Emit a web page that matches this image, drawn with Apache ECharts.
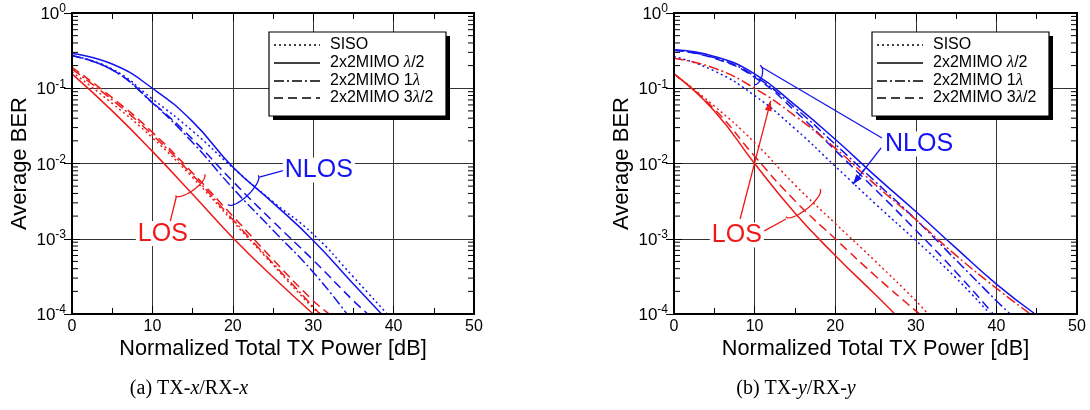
<!DOCTYPE html>
<html>
<head>
<meta charset="utf-8">
<script src="https://cdn.jsdelivr.net/npm/echarts@6/dist/echarts.min.js"></script>
<style>
  html, body { margin: 0; padding: 0; background: #fff; }
  #ber-chart { width: 1090px; height: 410px; }
</style>
</head>
<body>
<div id="ber-chart"></div>
<script>
// (a) TX-x/RX-x, points are [power dB, BER]
const aLosSiso = [[0, 0.165], [5, 0.063], [10, 0.022], [15, 0.0065], [20, 0.0017], [25, 0.00045], [30, 0.00012], [31, 0.0001]];
const aLosHalf = [[0, 0.155], [5, 0.05], [10, 0.0145], [15, 0.0039], [20, 0.00103], [25, 0.00031], [30, 0.0001]];
const aLosOne = [[0, 0.18], [5, 0.07], [10, 0.024], [15, 0.007], [20, 0.0018], [25, 0.00047], [30, 0.000125], [30.8, 0.0001]];
const aLosThree = [[0, 0.19], [5, 0.075], [10, 0.026], [15, 0.0075], [20, 0.002], [25, 0.00053], [30, 0.00015], [32, 0.0001]];
const aNlosSiso = [[0, 0.27], [5, 0.18], [10, 0.072], [15, 0.027], [20, 0.0088], [25, 0.0031], [30, 0.00115], [35, 0.00031], [39.2, 0.0001]];
const aNlosHalf = [[0, 0.29], [5, 0.21], [10, 0.1], [15, 0.036], [20, 0.009], [25, 0.003], [30, 0.00095], [35, 0.00025], [38.5, 0.0001]];
const aNlosOne = [[0, 0.27], [5, 0.175], [10, 0.064], [15, 0.019], [20, 0.0047], [25, 0.0013], [30, 0.00036], [34.2, 0.0001]];
const aNlosThree = [[0, 0.27], [5, 0.175], [10, 0.065], [15, 0.021], [20, 0.0058], [25, 0.0017], [30, 0.00052], [35, 0.00015], [36.8, 0.0001]];

// (b) TX-y/RX-y
const bLosSiso = [[0, 0.155], [5, 0.058], [10, 0.019], [15, 0.0052], [20, 0.0016], [25, 0.0005], [30, 0.00015], [31.5, 0.0001]];
const bLosHalf = [[0, 0.155], [5, 0.05], [10, 0.01], [15, 0.0022], [20, 0.0006], [25, 0.00018], [27.4, 0.0001]];
const bLosOne = [[0, 0.25], [5, 0.185], [10, 0.1], [15, 0.043], [20, 0.016], [25, 0.0052], [30, 0.0018], [35, 0.0006], [40, 0.00022], [44.2, 0.0001]];
const bLosThree = [[0, 0.155], [5, 0.053], [10, 0.0125], [15, 0.0032], [20, 0.001], [25, 0.00032], [30, 0.00011], [30.5, 0.0001]];
const bNlosSiso = [[0, 0.265], [5, 0.17], [10, 0.08], [15, 0.029], [20, 0.0092], [25, 0.0029], [30, 0.00095], [35, 0.0003], [39.2, 0.0001]];
const bNlosHalf = [[0, 0.325], [5, 0.265], [10, 0.155], [15, 0.06], [20, 0.021], [25, 0.0068], [30, 0.0023], [35, 0.00075], [40, 0.00025], [44.8, 0.0001]];
const bNlosOne = [[0, 0.32], [5, 0.255], [10, 0.145], [15, 0.055], [20, 0.018], [25, 0.0057], [30, 0.0018], [35, 0.00052], [40, 0.00015], [41.7, 0.0001]];
const bNlosThree = [[0, 0.32], [5, 0.25], [10, 0.14], [15, 0.05], [20, 0.015], [25, 0.0045], [30, 0.0013], [35, 0.00036], [39.6, 0.0001]];

const berMin = 0.0001;
const berMax = 1;
const powerMin = 0;
const powerMax = 50;
const powerStep = 10;
const berMinorTicks = [
  0.0002, 0.0003, 0.0004, 0.0005, 0.0006, 0.0007, 0.0008, 0.0009,
  0.002, 0.003, 0.004, 0.005, 0.006, 0.007, 0.008, 0.009,
  0.02, 0.03, 0.04, 0.05, 0.06, 0.07, 0.08, 0.09,
  0.2, 0.3, 0.4, 0.5, 0.6, 0.7, 0.8, 0.9,
];
const legendNames = ['SISO', '2x2MIMO {i|λ}/2', '2x2MIMO 1{i|λ}', '2x2MIMO 3{i|λ}/2'];
const captions = ['(a) TX-{i|x}/RX-{i|x}', '(b) TX-{i|y}/RX-{i|y}'];

const FONT = '"Liberation Sans", Arial, sans-serif';
const SERIF = '"Liberation Serif", "DejaVu Serif", serif';
const BLUE = '#1414ee';
const RED = '#ee1a1a';
const dash = {
  siso: [2, 3],
  half: 'solid',
  one: [10, 3, 2, 3],
  three: [9, 5],
};

function curve(name, data, color, kind, g) {
  return {
    type: 'line',
    name,
    data,
    xAxisIndex: g * 2,
    yAxisIndex: g * 2,
    symbol: 'none',
    smooth: 0.5,
    silent: true,
    lineStyle: { color, width: 1.5, type: dash[kind] },
    z: 3,
  };
}

function minorTicks(g) {
  return {
    type: 'custom',
    xAxisIndex: g * 2,
    yAxisIndex: g * 2,
    silent: true,
    clip: false,
    data: berMinorTicks.map((v) => [powerMin, v]),
    renderItem(params, api) {
      const v = api.value(1);
      const l = api.coord([powerMin, v]);
      const r = api.coord([powerMax, v]);
      const st = { stroke: '#000', lineWidth: 1 };
      return {
        type: 'group',
        children: [
          { type: 'line', shape: { x1: l[0], y1: l[1], x2: l[0] + 6, y2: l[1] }, style: st },
          { type: 'line', shape: { x1: r[0] - 6, y1: r[1], x2: r[0], y2: r[1] }, style: st },
        ],
      };
    },
    z: 4,
  };
}

function xAxes(g) {
  const common = {
    type: 'value',
    gridIndex: g,
    min: powerMin,
    max: powerMax,
    interval: powerStep,
    axisLine: { show: false },
    axisTick: { show: true, inside: true, length: 8, lineStyle: { color: '#000' } },
    minorTick: { show: true, splitNumber: 2, length: 6, lineStyle: { color: '#000' } },
  };
  return [
    {
      ...common,
      position: 'bottom',
      splitLine: { show: true, lineStyle: { color: '#333', width: 1 } },
      axisLabel: { fontSize: 16, color: '#000', fontFamily: FONT, margin: 5 },
      name: 'Normalized Total TX Power [dB]',
      nameLocation: 'middle',
      nameGap: 24,
      nameMoveOverlap: false,
      nameTextStyle: { fontSize: 21.7, color: '#000', fontFamily: FONT },
    },
    {
      ...common,
      position: 'top',
      splitLine: { show: false },
      axisLabel: { show: false },
    },
  ];
}

function yAxes(g) {
  const common = {
    type: 'log',
    logBase: 10,
    gridIndex: g,
    min: berMin,
    max: berMax,
    axisLine: { show: false },
    axisTick: { show: true, inside: true, length: 8, lineStyle: { color: '#000' } },
  };
  return [
    {
      ...common,
      position: 'left',
      splitLine: { show: true, lineStyle: { color: '#333', width: 1 } },
      axisLabel: {
        margin: 6,
        color: '#000',
        formatter: (v) => '{b|10}{s|' + Math.round(Math.log10(v)) + '}',
        rich: {
          b: { fontSize: 17, fontFamily: FONT, color: '#000', lineHeight: 20, verticalAlign: 'bottom' },
          s: { fontSize: 12, fontFamily: FONT, color: '#000', lineHeight: 10, verticalAlign: 'top' },
        },
      },
      name: 'Average BER',
      nameLocation: 'middle',
      nameGap: 41,
      nameMoveOverlap: false,
      nameTextStyle: { fontSize: 22, color: '#000', fontFamily: FONT },
    },
    {
      ...common,
      position: 'right',
      splitLine: { show: false },
      axisLabel: { show: false },
    },
  ];
}

const chart = echarts.init(document.getElementById('ber-chart'), null, { renderer: 'canvas' });

chart.setOption({
  animation: false,
  backgroundColor: '#fff',
  grid: [
    { left: 72, top: 13, width: 402, height: 301, show: true, borderColor: '#000', borderWidth: 2, backgroundColor: 'transparent', z: 5 },
    { left: 674, top: 13, width: 403, height: 301, show: true, borderColor: '#000', borderWidth: 2, backgroundColor: 'transparent', z: 5 },
  ],
  xAxis: [...xAxes(0), ...xAxes(1)],
  yAxis: [...yAxes(0), ...yAxes(1)],
  series: [
    curve('a NLOS SISO', aNlosSiso, BLUE, 'siso', 0),
    curve('a NLOS half', aNlosHalf, BLUE, 'half', 0),
    curve('a NLOS one', aNlosOne, BLUE, 'one', 0),
    curve('a NLOS three', aNlosThree, BLUE, 'three', 0),
    curve('a LOS SISO', aLosSiso, RED, 'siso', 0),
    curve('a LOS half', aLosHalf, RED, 'half', 0),
    curve('a LOS one', aLosOne, RED, 'one', 0),
    curve('a LOS three', aLosThree, RED, 'three', 0),
    curve('b NLOS SISO', bNlosSiso, BLUE, 'siso', 1),
    curve('b NLOS half', bNlosHalf, BLUE, 'half', 1),
    curve('b NLOS one', bNlosOne, BLUE, 'one', 1),
    curve('b NLOS three', bNlosThree, BLUE, 'three', 1),
    curve('b LOS SISO', bLosSiso, RED, 'siso', 1),
    curve('b LOS half', bLosHalf, RED, 'half', 1),
    curve('b LOS one', bLosOne, RED, 'one', 1),
    curve('b LOS three', bLosThree, RED, 'three', 1),
    minorTicks(0),
    minorTicks(1),
  ],
});

// annotations, placed in data coordinates of each panel
const noteTexts = [
  { g: 0, text: 'NLOS', at: [30.7, 0.0082], color: BLUE },
  { g: 0, text: 'LOS', at: [11.3, 0.00117], color: RED },
  { g: 1, text: 'NLOS', at: [30.4, 0.0182], color: BLUE },
  { g: 1, text: 'LOS', at: [7.8, 0.00112], color: RED },
];
const noteLines = [
  { g: 0, from: [26.6, 0.0082], to: [23.3, 0.0066], color: BLUE },
  { g: 0, from: [12.2, 0.00167], to: [13.0, 0.0037], color: RED },
  { g: 1, from: [25.8, 0.0218], to: [10.9, 0.19], color: BLUE },
  { g: 1, from: [25.7, 0.0161], to: [22.2, 0.0053], color: BLUE, arrow: true },
  { g: 1, from: [8.2, 0.00183], to: [12.0, 0.068], color: RED, arrow: true },
  { g: 1, from: [11.2, 0.00127], to: [13.9, 0.00183], color: RED },
];
const noteBrackets = [
  { g: 0, at: [21.27, 0.00445], a: 21, b: 7, angle: -44, color: BLUE },
  { g: 0, at: [14.68, 0.00518], a: 18, b: 6, angle: -36, color: RED },
  { g: 1, at: [10.3, 0.15], a: 10, b: 5, angle: -73, color: BLUE },
  { g: 1, at: [16.0, 0.00299], a: 22, b: 7, angle: -39, color: RED },
];

const toPx = (g, p) => chart.convertToPixel({ xAxisIndex: g * 2, yAxisIndex: g * 2 }, p);

function halfEllipse(c, a, b, deg) {
  const th = (deg * Math.PI) / 180;
  const ct = Math.cos(th);
  const st = Math.sin(th);
  const pts = [];
  for (let i = 0; i <= 30; i += 1) {
    const t = (Math.PI * i) / 30;
    const lx = a * Math.cos(t);
    const ly = b * Math.sin(t);
    pts.push([c[0] + lx * ct - ly * st, c[1] + lx * st + ly * ct]);
  }
  return pts;
}

const graphic = [];
noteLines.forEach((n) => {
  const p0 = toPx(n.g, n.from);
  const p1 = toPx(n.g, n.to);
  graphic.push({
    type: 'line', z: 100, silent: true,
    shape: { x1: p0[0], y1: p0[1], x2: p1[0], y2: p1[1] },
    style: { stroke: n.color, lineWidth: 1.3 },
  });
  if (n.arrow) {
    const dx = p1[0] - p0[0];
    const dy = p1[1] - p0[1];
    const len = Math.hypot(dx, dy);
    const ux = dx / len;
    const uy = dy / len;
    const bx = p1[0] - ux * 10;
    const by = p1[1] - uy * 10;
    graphic.push({
      type: 'polygon', z: 100, silent: true,
      shape: { points: [[p1[0], p1[1]], [bx - uy * 3.5, by + ux * 3.5], [bx + uy * 3.5, by - ux * 3.5]] },
      style: { fill: n.color },
    });
  }
});
noteBrackets.forEach((n) => {
  graphic.push({
    type: 'polyline', z: 100, silent: true,
    shape: { points: halfEllipse(toPx(n.g, n.at), n.a, n.b, n.angle) },
    style: { stroke: n.color, lineWidth: 1.3, fill: null },
  });
});
noteTexts.forEach((n) => {
  const p = toPx(n.g, n.at);
  graphic.push({
    type: 'text', z: 101, silent: true, x: p[0], y: p[1],
    style: {
      text: n.text, fill: n.color, fontSize: 25, fontFamily: FONT,
      align: 'center', verticalAlign: 'middle', backgroundColor: '#fff', padding: [0, 2],
    },
  });
});

// legend boxes
function legendBox(x0) {
  const y0 = 32;
  const w = 177;
  const h = 84;
  const rows = [45, 63, 81, 98];
  const kinds = ['siso', 'half', 'one', 'three'];
  graphic.push({ type: 'rect', z: 102, silent: true, shape: { x: x0 + 4, y: y0 + 4, width: w, height: h }, style: { fill: '#000' } });
  graphic.push({ type: 'rect', z: 103, silent: true, shape: { x: x0, y: y0, width: w, height: h }, style: { fill: '#fff', stroke: '#000', lineWidth: 1.2 } });
  rows.forEach((y, i) => {
    graphic.push({
      type: 'line', z: 104, silent: true,
      shape: { x1: x0 + 5, y1: y, x2: x0 + 51, y2: y },
      style: { stroke: '#000', lineWidth: 1.5, lineDash: dash[kinds[i]] === 'solid' ? null : dash[kinds[i]] },
    });
    graphic.push({
      type: 'text', z: 104, silent: true, x: x0 + 61, y,
      style: {
        text: legendNames[i], fill: '#000', fontSize: 16, fontFamily: FONT, verticalAlign: 'middle',
        rich: { i: { fontSize: 17, fontFamily: SERIF, fontStyle: 'italic', fill: '#000' } },
      },
    });
  });
}
legendBox(269);
legendBox(872);

captions.forEach((c, i) => {
  graphic.push({
    type: 'text', z: 100, silent: true, x: i === 0 ? 189 : 796, y: 389,
    style: {
      text: c, fill: '#000', fontSize: 20, fontFamily: SERIF, align: 'center', verticalAlign: 'middle',
      rich: { i: { fontSize: 20, fontFamily: SERIF, fontStyle: 'italic', fill: '#000' } },
    },
  });
});

chart.setOption({ graphic });
</script>
</body>
</html>
